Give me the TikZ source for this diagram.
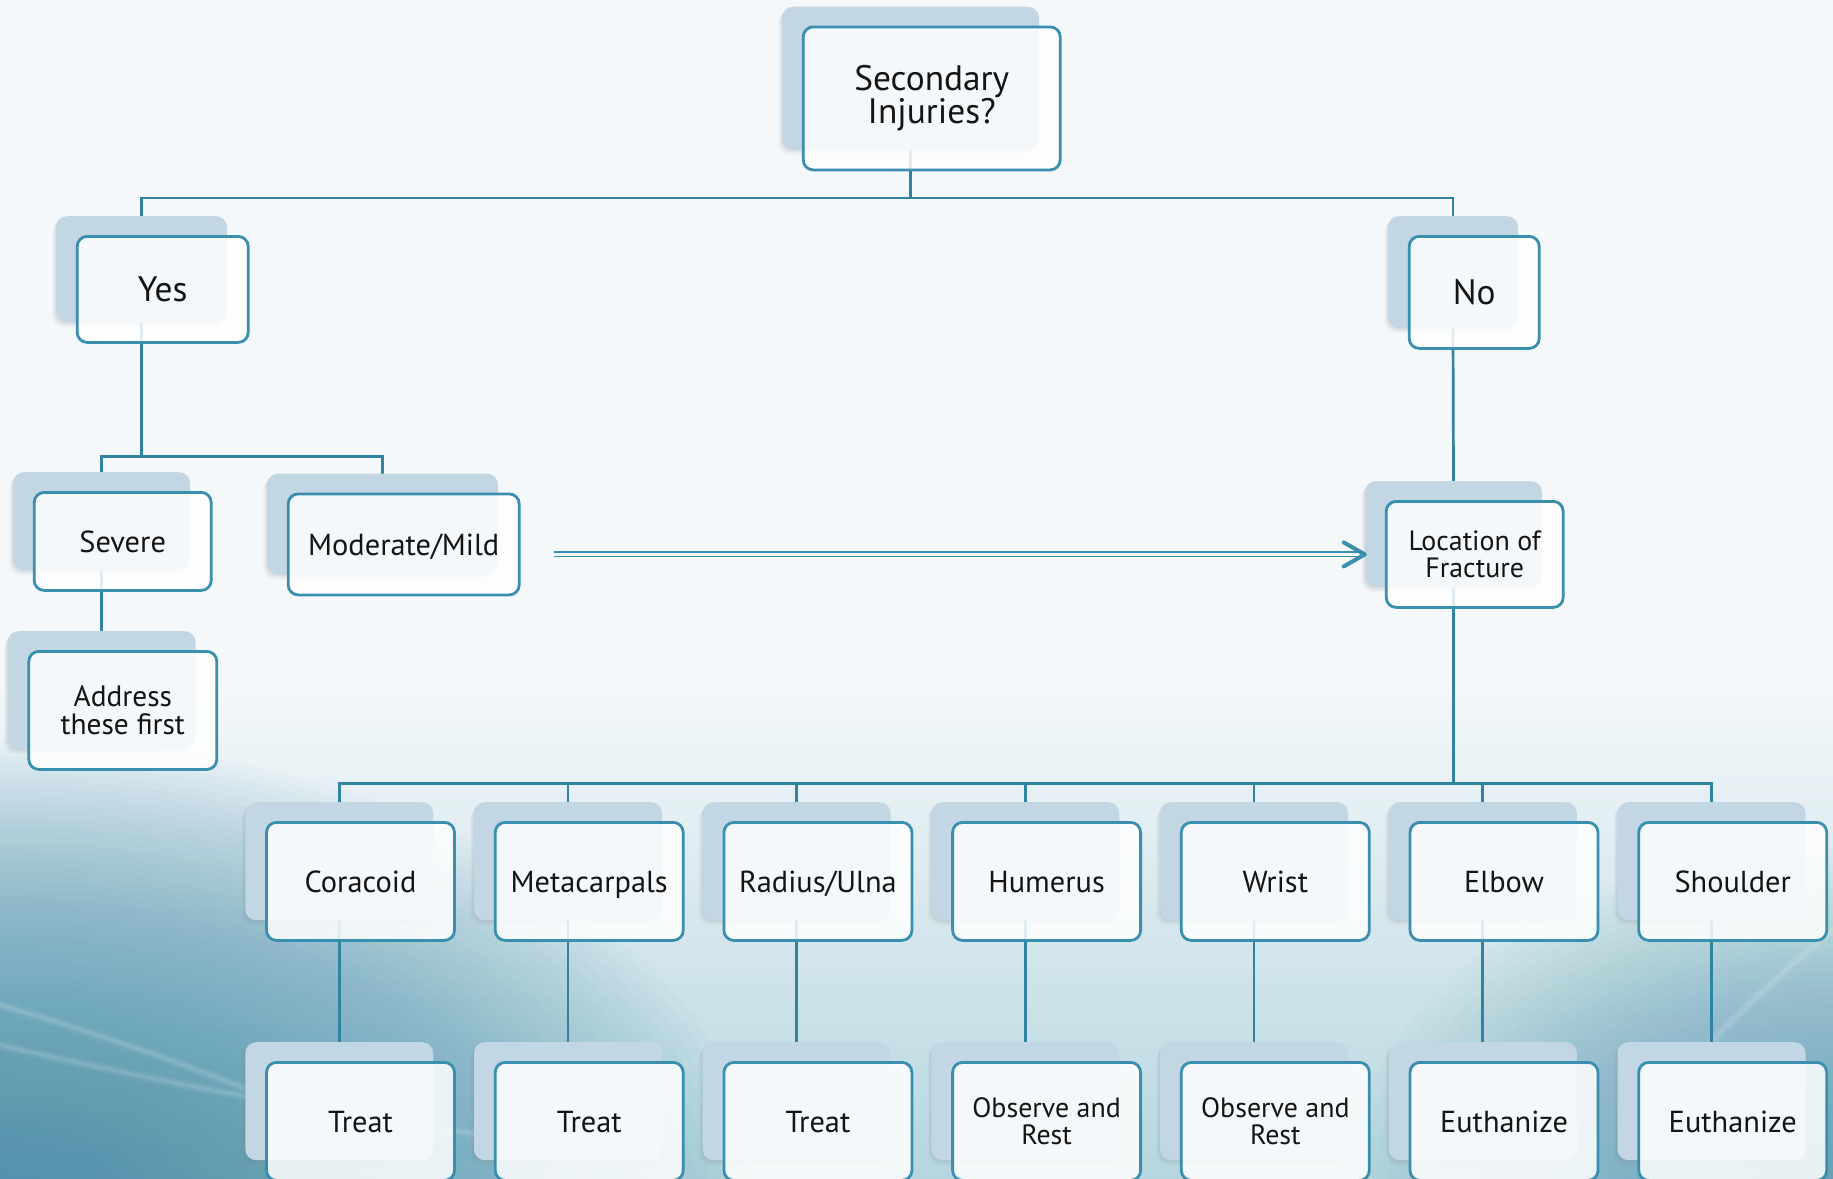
\documentclass[tikz,border=0pt]{standalone}
\usepackage{fontspec}
\setmainfont{PT Sans}
\usetikzlibrary{arrows.meta,shadows,calc}
\definecolor{bgc}{HTML}{F4F8FA}
\definecolor{shc}{HTML}{C2D6E3}
\definecolor{edgec}{HTML}{3A8EAE}
\definecolor{linec}{HTML}{3282A2}
\definecolor{txtc}{HTML}{141414}
\definecolor{tealbg}{HTML}{4A93AF}
\definecolor{bandc}{HTML}{B6D6DF}
\pgfdeclarelayer{bglayer}\pgfdeclarelayer{linelayer}
\pgfsetlayers{bglayer,linelayer,main}
\tikzset{
 shbox/.style={rectangle, rounded corners=11bp, fill=shc, inner sep=0pt,
   drop shadow={shadow xshift=-1.2pt, shadow yshift=-1.8pt, opacity=0.10},
   drop shadow={shadow xshift=-2.6pt, shadow yshift=-3.6pt, opacity=0.07},
   drop shadow={shadow xshift=-4pt, shadow yshift=-5.4pt, opacity=0.04}},
 frbox/.style={rectangle, rounded corners=10bp, draw=edgec, line width=2.8bp, fill=white,
   fill opacity=0.85, text opacity=1, inner sep=0pt, text=txtc, align=center},
 conn/.style={draw=linec, line width=2.7bp},
 bigtxt/.style={font=\fontsize{35.5}{32}\selectfont},
 bigone/.style={font=\fontsize{35.5}{32}\selectfont, text height=24.9bp, text depth=0pt},
 midtxt/.style={font=\fontsize{30.5}{27}\selectfont, text height=21.4bp, text depth=0pt},
 addtxt/.style={font=\fontsize{29.5}{27.5}\selectfont},
 smtxt/.style={font=\fontsize{28}{26.8}\selectfont},
 streak/.style={white, line cap=round},
}
\newcommand\treebox[7]{%
 \node[shbox, minimum width=#4bp, minimum height=#5bp, anchor=north] (#1S) at (#2,#3) {};
 \node[frbox, #6, minimum width=#4bp, minimum height=#5bp, anchor=north west] (#1)
   at ([xshift=20bp,yshift=-19bp]#1S.north west) {#7};
}
\begin{document}
\begin{tikzpicture}[x=1bp,y=-1bp]
\useasboundingbox (0,0) rectangle (1833,1178);
% background
\begin{pgfonlayer}{bglayer}
\fill[bgc] (0,0) rectangle (1833,1178);
\shade[top color=bgc, bottom color=bandc] (0,680) rectangle (1833,1178);
\foreach \i in {0,...,59}{
  \fill[tealbg, opacity=0.026] (0,1210) ellipse [x radius={760*(1-\i/60)}, y radius={470*(1-\i/60)}];
}
\foreach \i in {0,...,39}{
  \fill[tealbg, opacity=0.022] (1833,1178) ellipse [x radius={480*(1-\i/40)}, y radius={330*(1-\i/40)}];
}
\foreach \w/\o in {10/0.05,6/0.06,3/0.08}{
  \draw[streak, opacity=\o, line width=\w bp] (0,1005) .. controls (120,1040) and (200,1070) .. (300,1110);
  \draw[streak, opacity=\o, line width=\w bp] (0,1045) .. controls (150,1080) and (350,1120) .. (600,1150);
  \draw[streak, opacity=\o, line width=\w bp] (1833,930) .. controls (1760,990) and (1700,1050) .. (1640,1120);
}
\end{pgfonlayer}
% nodes
\treebox{top}{910.5}{6.5}{257}{143}{bigtxt}{Secondary\\Injuries?}
\treebox{yes}{141.5}{216}{171}{106}{bigone}{Yes}
\treebox{no}{1453}{216}{130}{112}{bigone}{No}
\treebox{sev}{101.5}{472}{177}{98}{midtxt}{Severe}
\treebox{mod}{382.5}{473.5}{231}{101}{midtxt}{Moderate/Mild}
\treebox{add}{101.6}{631}{188}{118}{addtxt}{Address\\these first}
\treebox{loc}{1453.5}{481}{177}{106}{smtxt}{Location of\\Fracture}
\treebox{ca}{339.3}{802}{188}{118}{midtxt}{Coracoid}
\treebox{cb}{568.0}{802}{188}{118}{midtxt}{Metacarpals}
\treebox{cc}{796.7}{802}{188}{118}{midtxt}{Radius/Ulna}
\treebox{cd}{1025.4}{802}{188}{118}{midtxt}{Humerus}
\treebox{ce}{1254.1}{802}{188}{118}{midtxt}{Wrist}
\treebox{cf}{1482.8}{802}{188}{118}{midtxt}{Elbow}
\treebox{cg}{1711.5}{802}{188}{118}{midtxt}{Shoulder}
\treebox{da}{339.3}{1042}{188}{118}{midtxt}{Treat}
\treebox{db}{568.0}{1042}{188}{118}{midtxt}{Treat}
\treebox{dc}{796.7}{1042}{188}{118}{midtxt}{Treat}
\treebox{dd}{1025.4}{1042}{188}{118}{smtxt}{Observe and\\Rest}
\treebox{de}{1254.1}{1042}{188}{118}{smtxt}{Observe and\\Rest}
\treebox{df}{1482.8}{1042}{188}{118}{midtxt}{Euthanize}
\treebox{dg}{1711.5}{1042}{188}{118}{midtxt}{Euthanize}
% connectors
\begin{pgfonlayer}{linelayer}
\draw[conn] (topS.south) -- ++(0,48) coordinate (b1) -| (yesS.north);
\draw[conn] (b1) -| (noS.north);
\draw[conn] (yesS.south) -- ++(0,134) coordinate (b2) -| (sevS.north);
\draw[conn] (b2) -| (modS.north);
\draw[conn] (sevS.south) -- (addS.north);
\draw[conn] (noS.south) -- (locS.north);
\draw[conn] (locS.south) -- ++(0,196) coordinate (b3);
\foreach \n in {ca,cb,cc,cd,ce,cf,cg}{\draw[conn] (b3) -| (\n S.north);}
\draw[conn] (caS.south) -- (daS.north);
\draw[conn] (cbS.south) -- (dbS.north);
\draw[conn] (ccS.south) -- (dcS.north);
\draw[conn] (cdS.south) -- (ddS.north);
\draw[conn] (ceS.south) -- (deS.north);
\draw[conn] (cfS.south) -- (dfS.north);
\draw[conn] (cgS.south) -- (dgS.north);
\end{pgfonlayer}
% arrow from Moderate/Mild to Location of Fracture
\coordinate (arrE) at (locS.west |- loc.center);
\path (mod.east) ++(33,0) coordinate (arrT);
\coordinate (arrS) at (arrT |- arrE);
\draw[draw=edgec, double=bgc, double distance=2.3bp, line width=1.9bp, shorten >=3bp] (arrS) -- (arrE);
\draw[edgec, line width=4bp, line cap=round, line join=round]
  ([shift={(-21,-12)}]arrE) -- (arrE) -- ([shift={(-21,12)}]arrE);
\end{tikzpicture}
\end{document}
